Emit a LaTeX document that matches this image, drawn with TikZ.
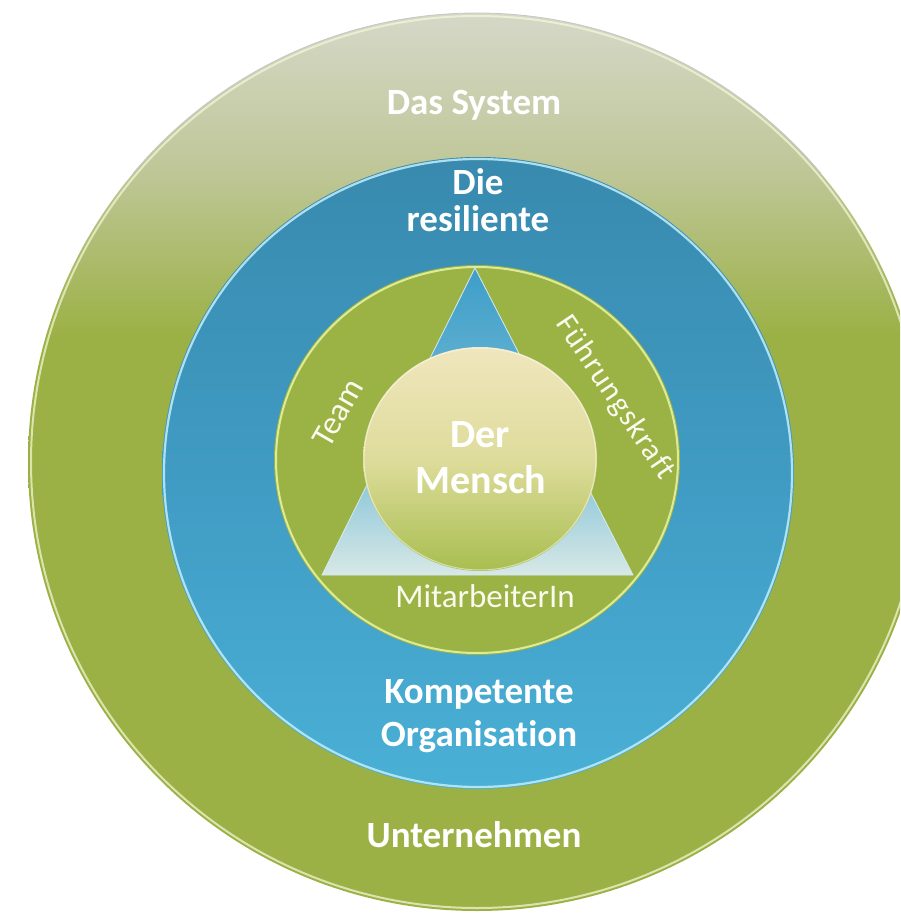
\documentclass[tikz,border=0pt]{standalone}
\usepackage{fontspec}
\setmainfont{Carlito}[Ligatures=NoCommon]
\newfontfamily\spacedfont{Carlito}[Ligatures=NoCommon, LetterSpace=4]
\definecolor{ogreen}{RGB}{155,177,69}
\definecolor{omid}{RGB}{190,198,150}
\definecolor{otop}{RGB}{214,216,200}
\definecolor{btop}{RGB}{56,138,174}
\definecolor{bmid}{RGB}{64,155,195}
\definecolor{bbot}{RGB}{74,176,214}
\definecolor{igreen}{RGB}{155,178,68}
\definecolor{ctop}{RGB}{240,230,190}
\definecolor{cmid}{RGB}{222,220,155}
\definecolor{cbot}{RGB}{168,190,80}
\definecolor{ttop}{RGB}{62,158,200}
\definecolor{tmid}{RGB}{120,190,215}
\definecolor{tbot}{RGB}{215,232,230}
\definecolor{txtc}{RGB}{250,250,238}
\definecolor{hly}{RGB}{230,242,160}
\definecolor{hlb}{RGB}{195,238,250}
\pgfdeclareverticalshading{outershade}{100bp}{color(0bp)=(ogreen); color(25bp)=(ogreen); color(57bp)=(ogreen); color(66bp)=(omid); color(75bp)=(otop); color(100bp)=(otop)}
\pgfdeclareverticalshading{blueshade}{100bp}{color(0bp)=(bbot); color(25bp)=(bbot); color(50bp)=(bmid); color(75bp)=(btop); color(100bp)=(btop)}
\pgfdeclareverticalshading{coreshade}{100bp}{color(0bp)=(cbot); color(25bp)=(cbot); color(50bp)=(cmid); color(75bp)=(ctop); color(100bp)=(ctop)}
\pgfdeclareverticalshading{trishade}{100bp}{color(0bp)=(tbot); color(25bp)=(tbot); color(45bp)=(tmid); color(75bp)=(ttop); color(100bp)=(ttop)}
\tikzset{
  ringtxt/.style={text=white, font=\bfseries\fontsize{37}{40}\selectfont, anchor=base, inner sep=0pt},
  coretxt/.style={text=white, font=\bfseries\fontsize{40}{44}\selectfont, anchor=base, inner sep=0pt},
  segtxt/.style={text=txtc, font=\fontsize{33}{36}\selectfont, inner sep=0pt},
}
\begin{document}
\begin{tikzpicture}[x=1pt,y=-1pt]
\useasboundingbox (0,0) rectangle (900,917);
\clip (0,0) rectangle (900,917);
\fill[white] (0,0) rectangle (900,917);
% outer ring
\shade[shading=outershade] (477,462) circle (449pt);
\draw[white!60!hly, line width=2pt, opacity=0.7] (477,462) circle (446pt);
\draw[black!22, line width=0.8pt] (477,462) ++(40:449pt) arc (40:140:449pt);
% blue ring
\shade[shading=blueshade] (478,473) circle (316pt);
\draw[hlb, line width=2.2pt, opacity=0.85] (478,473) circle (314pt);
% inner green circle
\fill[igreen] (477,460) ellipse (203pt and 195pt);
\draw[hly, line width=2pt, opacity=0.9] (477,460) ellipse (201pt and 193pt);
% triangle
\shade[shading=trishade, draw=white!70!tmid, line width=0.8pt] (475,268) -- (633,575) -- (322,575) -- cycle;
% core
\shade[shading=coreshade] (480,459) ellipse (117pt and 112pt);
\draw[white, line width=1pt, opacity=0.5] (480,459) ellipse (116pt and 111pt);
% texts
\node[ringtxt] (sys) at (474,115) {Das System};
\node[ringtxt] (die) at (478,195) {Die};
\node[ringtxt] (res) at (478,232) {resiliente};
\node[ringtxt] (komp) at (479,703) {Kompetente};
\node[ringtxt] (org) at (479,746) {Organisation};
\node[ringtxt] (unt) at (474,847) {Unternehmen};
\node[coretxt] (der) at (480,447) {Der};
\node[coretxt] (mensch) at (481,493) {Mensch};
\node[segtxt, anchor=base] (mit) at (485,607) {MitarbeiterIn};
\node[segtxt, rotate=60] (team) at (338,413) {Team};
\node[segtxt, font=\spacedfont\fontsize{31}{34}\selectfont, rotate=-56] (fk) at (615,398) {Führungskraft};
\end{tikzpicture}
\end{document}
